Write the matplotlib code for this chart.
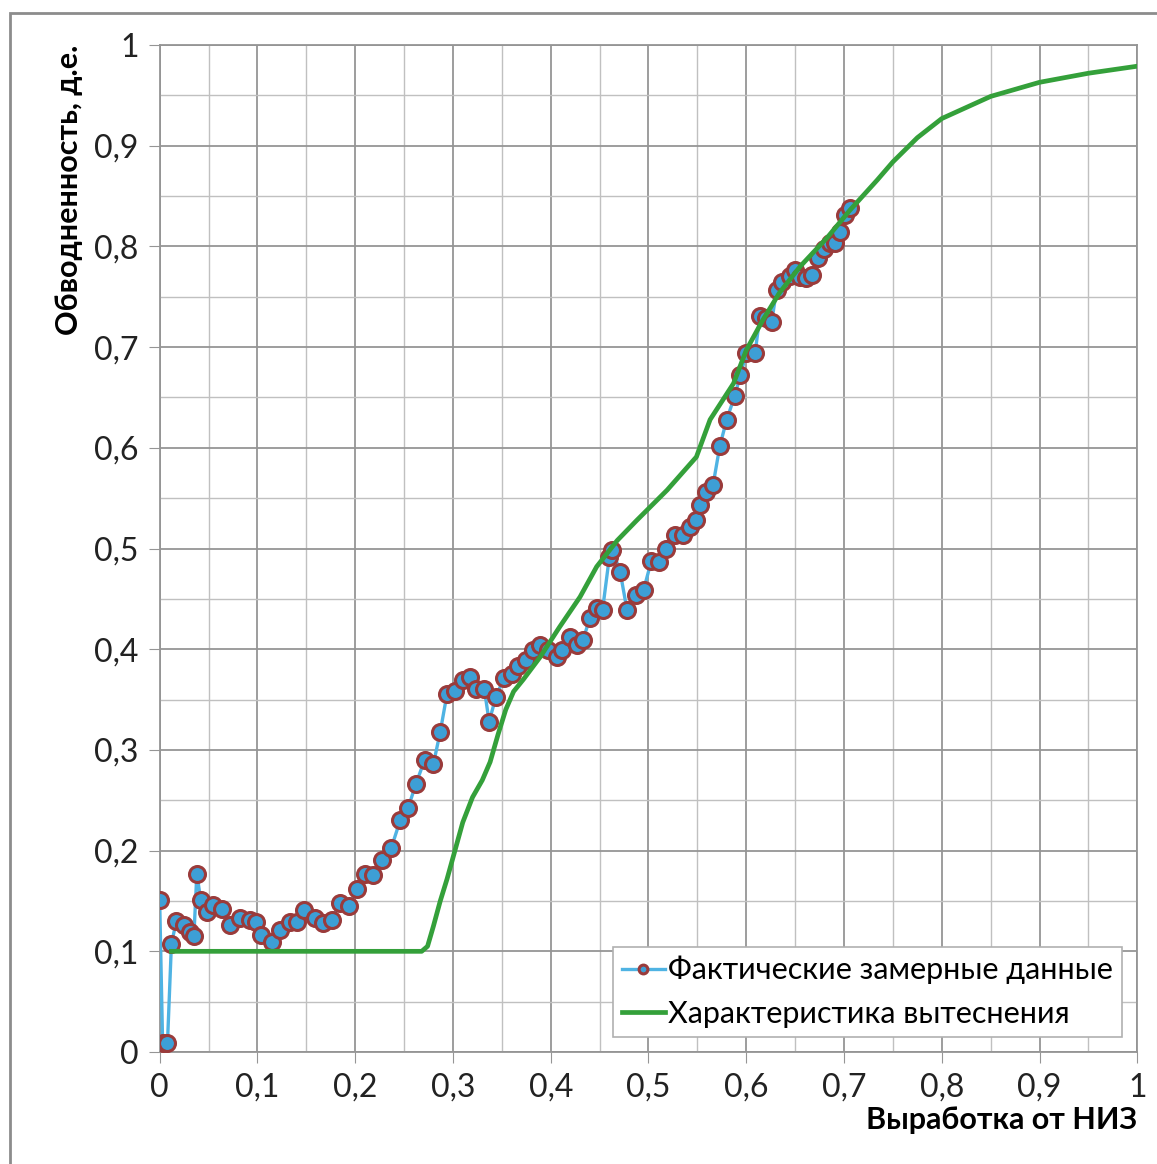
import matplotlib
matplotlib.use("Agg")
import matplotlib.pyplot as plt
from matplotlib.patches import Rectangle
from matplotlib.ticker import MultipleLocator, FuncFormatter

# measured data (fraction recovered vs water cut)
fact_x = [0.000, 0.003, 0.008, 0.012, 0.017, 0.025, 0.031, 0.035, 0.038, 0.042,
          0.048, 0.055, 0.064, 0.072, 0.082, 0.092, 0.099, 0.104, 0.115, 0.123,
          0.133, 0.140, 0.148, 0.159, 0.167, 0.176, 0.184, 0.194, 0.202, 0.210,
          0.218, 0.227, 0.237, 0.246, 0.254, 0.262, 0.271, 0.280, 0.287, 0.294,
          0.302, 0.310, 0.317, 0.324, 0.332, 0.337, 0.344, 0.352, 0.360, 0.367,
          0.375, 0.382, 0.389, 0.397, 0.406, 0.412, 0.420, 0.427, 0.433, 0.440,
          0.447, 0.453, 0.460, 0.463, 0.471, 0.478, 0.487, 0.495, 0.503, 0.511,
          0.518, 0.527, 0.535, 0.542, 0.549, 0.553, 0.559, 0.566, 0.573, 0.580,
          0.588, 0.594, 0.600, 0.609, 0.614, 0.620, 0.626, 0.631, 0.637, 0.645,
          0.650, 0.655, 0.661, 0.667, 0.673, 0.679, 0.686, 0.691, 0.696, 0.701,
          0.706]
fact_y = [0.151, 0.009, 0.009, 0.107, 0.130, 0.126, 0.119, 0.115, 0.177, 0.151,
          0.139, 0.146, 0.142, 0.126, 0.133, 0.131, 0.129, 0.116, 0.109, 0.121,
          0.129, 0.129, 0.141, 0.133, 0.128, 0.131, 0.148, 0.145, 0.162, 0.177,
          0.176, 0.191, 0.203, 0.230, 0.242, 0.266, 0.290, 0.286, 0.318, 0.356,
          0.359, 0.369, 0.372, 0.361, 0.361, 0.328, 0.353, 0.371, 0.375, 0.383,
          0.389, 0.399, 0.404, 0.399, 0.392, 0.399, 0.412, 0.404, 0.409, 0.431,
          0.441, 0.439, 0.492, 0.499, 0.477, 0.439, 0.454, 0.459, 0.488, 0.487,
          0.500, 0.513, 0.513, 0.521, 0.528, 0.543, 0.556, 0.563, 0.602, 0.628,
          0.651, 0.672, 0.694, 0.694, 0.731, 0.729, 0.725, 0.757, 0.765, 0.771,
          0.777, 0.770, 0.769, 0.772, 0.789, 0.797, 0.803, 0.803, 0.814, 0.831,
          0.838]

# displacement characteristic
char_x = [0.012, 0.100, 0.200, 0.268, 0.274, 0.280, 0.287, 0.294, 0.302, 0.310,
          0.320, 0.330, 0.338, 0.346, 0.354, 0.362, 0.372, 0.389, 0.409, 0.430,
          0.447, 0.468, 0.488, 0.519, 0.549, 0.563, 0.587, 0.600, 0.617, 0.634,
          0.655, 0.683, 0.706, 0.734, 0.750, 0.775, 0.800, 0.850, 0.900, 0.950,
          1.000]
char_y = [0.100, 0.100, 0.100, 0.100, 0.105, 0.125, 0.150, 0.172, 0.200, 0.228,
          0.253, 0.270, 0.288, 0.315, 0.340, 0.358, 0.370, 0.392, 0.422, 0.452,
          0.482, 0.508, 0.528, 0.558, 0.591, 0.628, 0.664, 0.697, 0.727, 0.754,
          0.780, 0.809, 0.836, 0.866, 0.884, 0.908, 0.927, 0.949, 0.963, 0.972,
          0.979]

plt.rcParams['font.family'] = ['Lato', 'DejaVu Sans']

fig = plt.figure(figsize=(11.57, 11.64), dpi=100)
ax = fig.add_axes([0.138, 0.0962, 0.845, 0.8651])

fig.patches.append(Rectangle((0.009, -0.05), 1.1, 1.039, transform=fig.transFigure,
                             fill=False, edgecolor='#8c8c8c', lw=2, zorder=0))

ax.plot(fact_x, fact_y, color='#4fb3e3', lw=2.4, marker='o', markersize=11.5,
        markerfacecolor='#3d9fd6', markeredgecolor='#9a3b3b', markeredgewidth=2.2,
        label='Фактические замерные данные', zorder=3)
ax.plot(char_x, char_y, color='#34a03a', lw=3.4, label='Характеристика вытеснения', zorder=4)

ax.set_xlim(0, 1)
ax.set_ylim(0, 1)
ax.xaxis.set_major_locator(MultipleLocator(0.1))
ax.yaxis.set_major_locator(MultipleLocator(0.1))
ax.xaxis.set_minor_locator(MultipleLocator(0.05))
ax.yaxis.set_minor_locator(MultipleLocator(0.05))
fmt = FuncFormatter(lambda v, p: f'{round(v, 2):g}'.replace('.', ','))
ax.xaxis.set_major_formatter(fmt)
ax.yaxis.set_major_formatter(fmt)

ax.grid(which='major', color='#959595', lw=1.3)
ax.grid(which='minor', color='#c0c0c0', lw=1.0)
ax.set_axisbelow(True)
for s in ax.spines.values():
    s.set_color('#959595')
    s.set_linewidth(1.3)
ax.tick_params(which='major', length=8, color='#959595', labelsize=23,
               labelcolor='#222222', pad=7)
ax.tick_params(which='minor', length=0)

ax.set_xlabel('Выработка от НИЗ', loc='right', fontsize=22, fontweight='bold', labelpad=2)
ax.set_ylabel('Обводненность, д.е.', loc='top', fontsize=22, fontweight='bold', labelpad=8)

leg = ax.legend(loc='lower right', bbox_to_anchor=(0.984, 0.015), fontsize=22,
                handlelength=1.4, handletextpad=0.1, markerscale=0.55,
                fancybox=False, edgecolor='#b0b0b0', framealpha=1,
                borderpad=0.3, borderaxespad=0, labelspacing=0.5)
leg.get_frame().set_linewidth(1.2)

fig.savefig('out.png', dpi=100)
